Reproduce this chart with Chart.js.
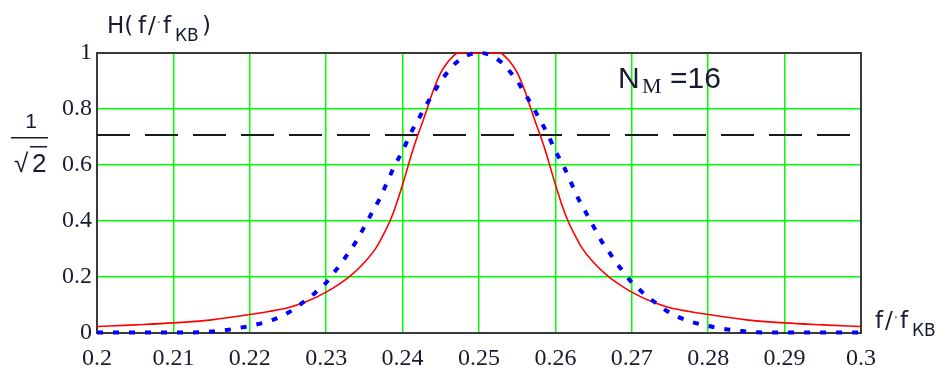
<!DOCTYPE html>
<html>
<head>
<meta charset="utf-8">
<script src="https://cdn.jsdelivr.net/npm/chart.js@4/dist/chart.umd.min.js"></script>
<style>
  html, body { margin: 0; padding: 0; background: #fff; }
  #wrap { width: 941px; height: 367px; }
</style>
</head>
<body>
<div id="wrap"><canvas id="chart" width="941" height="367"></canvas></div>
<script>
// Axis ticks
const xTickLabels = ["0.2", "0.21", "0.22", "0.23", "0.24", "0.25", "0.26", "0.27", "0.28", "0.29", "0.3"];
const yTickLabels = ["0", "0.2", "0.4", "0.6", "0.8", "1"];

// Red solid curve
const redX = [0.200, 0.205, 0.210, 0.215, 0.220, 0.2225, 0.225, 0.2275, 0.230, 0.2315, 0.2332, 0.235, 0.2365, 0.2375,
  0.2385, 0.2393, 0.2400, 0.2407, 0.2413, 0.2420, 0.2425, 0.2432, 0.2440, 0.2445, 0.2450, 0.2457, 0.2465, 0.2472,
  0.2500, 0.2528, 0.2535, 0.2543, 0.2550, 0.2555, 0.2560, 0.2568, 0.2575, 0.2580, 0.2587, 0.2593, 0.2600, 0.2607,
  0.2615, 0.2625, 0.2635, 0.2650, 0.2668, 0.2685, 0.2700, 0.2725, 0.2750, 0.2775, 0.2800, 0.2850, 0.2900, 0.2950, 0.3000];
const redY = [0.023, 0.029, 0.036, 0.047, 0.066, 0.077, 0.09, 0.113, 0.146, 0.171, 0.205, 0.252, 0.303, 0.352,
  0.41, 0.47, 0.53, 0.595, 0.65, 0.707, 0.745, 0.80, 0.865, 0.90, 0.93, 0.96, 0.985, 1.0,
  1.0, 1.0, 0.985, 0.96, 0.93, 0.90, 0.865, 0.80, 0.745, 0.707, 0.65, 0.595, 0.53, 0.47,
  0.41, 0.352, 0.303, 0.252, 0.205, 0.171, 0.146, 0.113, 0.09, 0.077, 0.066, 0.047, 0.036, 0.029, 0.023];

// Blue dotted curve
const blueX = [0.200, 0.205, 0.210, 0.212, 0.214, 0.215, 0.216, 0.217, 0.218, 0.219, 0.220, 0.221, 0.222, 0.223, 0.224,
  0.225, 0.226, 0.227, 0.228, 0.229, 0.230, 0.231, 0.232, 0.233, 0.234, 0.235, 0.236, 0.237, 0.238, 0.239,
  0.240, 0.241, 0.242, 0.243, 0.244, 0.245, 0.246, 0.247, 0.248, 0.249, 0.250, 0.251, 0.252, 0.253, 0.254,
  0.255, 0.256, 0.257, 0.258, 0.259, 0.260, 0.261, 0.262, 0.263, 0.264, 0.265, 0.266, 0.267, 0.268, 0.269,
  0.270, 0.271, 0.272, 0.273, 0.274, 0.275, 0.276, 0.277, 0.278, 0.279, 0.280, 0.281, 0.282, 0.283, 0.284,
  0.285, 0.286, 0.288, 0.290, 0.295, 0.300];
const blueY = [0.002, 0.002, 0.002, 0.002, 0.003, 0.005, 0.008, 0.011, 0.015, 0.02, 0.025, 0.031, 0.038, 0.047, 0.058,
  0.072, 0.09, 0.11, 0.13, 0.155, 0.18, 0.215, 0.25, 0.29, 0.33, 0.38, 0.43, 0.48, 0.54, 0.60,
  0.65, 0.71, 0.76, 0.81, 0.855, 0.90, 0.935, 0.965, 0.985, 0.997, 1.0, 0.997, 0.985, 0.965, 0.935,
  0.90, 0.855, 0.81, 0.76, 0.71, 0.65, 0.60, 0.54, 0.48, 0.43, 0.38, 0.33, 0.29, 0.25, 0.215,
  0.18, 0.155, 0.13, 0.11, 0.09, 0.072, 0.058, 0.047, 0.038, 0.031, 0.025, 0.02, 0.015, 0.011, 0.008,
  0.005, 0.003, 0.002, 0.002, 0.002, 0.002];

// 1/sqrt(2) level
const levelX = [0.2, 0.3];
const levelY = [0.707, 0.707];

const toPoints = (xs, ys) => xs.map((x, i) => ({ x: x, y: ys[i] }));

const textColor = '#161c30';

// Frame around the plot, drawn over the grid but under the curves
const framePlugin = {
  id: 'frame',
  beforeDatasetsDraw(chart) {
    const { ctx, chartArea: a } = chart;
    ctx.save();
    ctx.strokeStyle = '#3a3a3a';
    ctx.lineWidth = 2;
    ctx.strokeRect(a.left, a.top, a.right - a.left, a.bottom - a.top);
    ctx.restore();
  }
};

// draws f/·f with the wide Mathcad spacing, then the subscript
function drawRatio(ctx, x, base) {
  ctx.font = '23px "DejaVu Sans"';
  ctx.fillText('f', x + 1, base);
  ctx.fillText('/', x + 11, base);
  ctx.font = '12px "DejaVu Sans"';
  ctx.fillText('·', x + 20, base - 6);
  ctx.font = '23px "DejaVu Sans"';
  ctx.fillText('f', x + 26, base);
  ctx.font = '17px "DejaVu Sans"';
  ctx.fillText('КВ', x + 38, base + 8);
}

// Titles and annotations
const labelsPlugin = {
  id: 'labels',
  afterDraw(chart) {
    const ctx = chart.ctx;
    ctx.save();
    ctx.fillStyle = textColor;
    ctx.textBaseline = 'alphabetic';
    ctx.textAlign = 'left';

    // H(f/f_KB)
    ctx.font = '23px "DejaVu Sans"';
    ctx.fillText('H(', 107, 33);
    drawRatio(ctx, 137, 33);
    ctx.font = '23px "DejaVu Sans"';
    ctx.fillText(')', 202, 33);

    // 1 / sqrt(2)
    ctx.font = '21px "Liberation Sans"';
    ctx.textAlign = 'center';
    ctx.fillText('1', 31, 128);
    ctx.fillRect(11, 137, 37, 1.5);
    ctx.textAlign = 'left';
    ctx.font = '26px "Liberation Sans"';
    ctx.fillText('√', 14, 172);
    ctx.fillText('2', 32, 172);
    ctx.fillRect(30, 146, 17, 1.5);

    // N_M = 16
    ctx.font = '30px "Liberation Sans"';
    ctx.fillText('N', 618, 88);
    ctx.font = '22px "Liberation Serif"';
    ctx.fillText('M', 642, 93);
    ctx.font = '30px "Liberation Sans"';
    ctx.fillText('=16', 670, 88);

    // f/f_KB axis label
    drawRatio(ctx, 874, 328);
    ctx.restore();
  }
};

new Chart(document.getElementById('chart'), {
  type: 'line',
  data: {
    datasets: [
      {
        label: 'level',
        data: toPoints(levelX, levelY),
        borderColor: '#1a1a1a',
        borderWidth: 2,
        borderDash: [33, 15],
        pointRadius: 0,
        order: 3
      },
      {
        label: 'red',
        data: toPoints(redX, redY),
        borderColor: '#ff0000',
        borderWidth: 1.6,
        pointRadius: 0,
        cubicInterpolationMode: 'monotone',
        clip: false,
        order: 2
      },
      {
        label: 'blue',
        data: toPoints(blueX, blueY),
        borderColor: '#0000ff',
        borderWidth: 4,
        borderDash: [6, 10],
        borderCapStyle: 'butt',
        pointRadius: 0,
        cubicInterpolationMode: 'monotone',
        clip: false,
        order: 1
      }
    ]
  },
  options: {
    responsive: false,
    animation: false,
    events: [],
    layout: { padding: { left: 0, right: 80, top: 53, bottom: 0 } },
    plugins: { legend: { display: false }, tooltip: { enabled: false } },
    scales: {
      x: {
        type: 'linear',
        min: 0.2,
        max: 0.3,
        afterFit: axis => { axis.height = 34; },
        afterBuildTicks: axis => {
          axis.ticks = xTickLabels.map((t, i) => ({ value: 0.2 + i * 0.01 }));
        },
        ticks: {
          padding: 11,
          color: textColor,
          font: { family: '"Liberation Serif"', size: 24 },
          maxRotation: 0,
          autoSkip: false,
          callback: (v, i) => xTickLabels[i]
        },
        grid: { color: '#00ff00', lineWidth: 1.5, drawTicks: false },
        border: { display: false }
      },
      y: {
        min: 0,
        max: 1,
        afterFit: axis => { axis.width = 97; },
        afterBuildTicks: axis => {
          axis.ticks = yTickLabels.map((t, i) => ({ value: i * 0.2 }));
        },
        ticks: {
          padding: 5,
          color: textColor,
          font: { family: '"Liberation Serif"', size: 24 },
          callback: (v, i) => yTickLabels[i]
        },
        grid: { color: '#00ff00', lineWidth: 1.5, drawTicks: false },
        border: { display: false }
      }
    }
  },
  plugins: [framePlugin, labelsPlugin]
});
</script>
</body>
</html>
